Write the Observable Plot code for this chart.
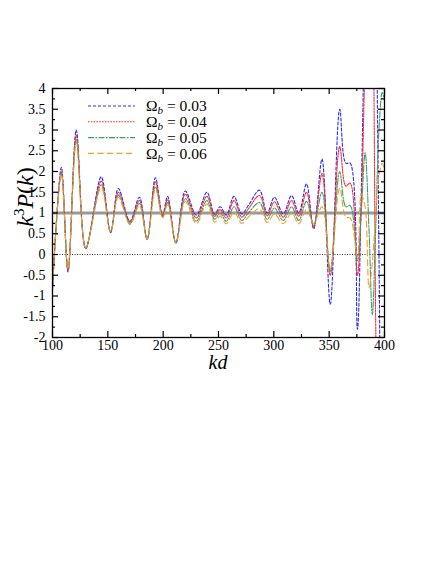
<!DOCTYPE html>
<html><head><meta charset="utf-8">
<script src="https://cdn.jsdelivr.net/npm/d3@7"></script>
<script src="https://cdn.jsdelivr.net/npm/@observablehq/plot@0.6"></script>
<style>
body{margin:0;background:#fff;}
#wrap{width:436px;height:564px;}
</style></head><body><div id="wrap"></div>
<script>
// knot positions (kd)
const kd = [100,108,114,121.5,130,144,152.5,159.5,170,178.5,185.5,193,199.5,204,211.5,220,230,239.5,246.5,251.5,257,264,271,277,287,294,300.5,308.5,316,322.5,329.5,336,343.5,351,359.5,365,369,375.5,379,382.5,386,389,392,395,398,400];
const omega003 = [-0.85,2.1,-0.42,3.0,0.14,1.87,0.53,1.59,0.8,1.38,0.37,1.85,0.95,1.4,0.28,1.53,0.95,1.5,0.97,1.15,0.95,1.4,0.98,1.18,1.55,1.0,1.38,0.98,1.42,1.0,1.7,0.62,2.3,-1.2,3.5,2.2,2.2,-1.8,1.5,6.5,11,11,7,0,-8,-10];
const omega004 = [-0.8,2.0,-0.38,2.87,0.15,1.77,0.54,1.5,0.78,1.3,0.37,1.75,0.93,1.32,0.28,1.45,0.88,1.4,0.92,1.08,0.88,1.3,0.9,1.1,1.42,0.93,1.27,0.9,1.3,0.92,1.5,0.65,1.95,-0.5,2.6,1.65,1.72,-0.5,1.2,4.8,8,6.5,-1.5,-7,-6,-3];
const omega005 = [-0.78,1.96,-0.36,2.77,0.16,1.68,0.55,1.43,0.75,1.23,0.38,1.63,0.9,1.25,0.28,1.35,0.8,1.3,0.85,1.0,0.8,1.15,0.82,1.0,1.25,0.85,1.12,0.82,1.15,0.82,1.28,0.7,1.5,-0.4,2.0,1.15,1.18,-0.15,1.0,2.45,0.6,-1.45,0.6,3.0,3.9,3.7];
const omega006 = [-0.75,1.93,-0.35,2.7,0.17,1.62,0.56,1.38,0.72,1.18,0.38,1.58,0.88,1.2,0.28,1.28,0.74,1.22,0.78,0.93,0.74,1.02,0.75,0.9,1.1,0.77,0.98,0.74,1.0,0.74,1.08,0.75,1.15,-0.35,1.6,0.9,0.88,-0.05,1.45,1.15,-0.8,-0.2,1.0,1.9,2.2,2.0];
const seriesLabels = ["0.03","0.04","0.05","0.06"];
const seriesValues = [omega003, omega004, omega005, omega006];
const xMajor = [100,150,200,250,300,350,400];
const xMinor = [125,175,225,275,325,375];
const yMajor = [-2,-1.5,-1,-0.5,0,0.5,1,1.5,2,2.5,3,3.5,4];
const yMinor = [-1.75,-1.25,-0.75,-0.25,0.25,0.75,1.25,1.75,2.25,2.75,3.25,3.75];

const colors = ["#2a2aff","#ff2a2a","#3a9e6e","#ff9a2a"];
const dashes = ["3,2","1.6,1.2","6,1.5,1.5,1.5","6,3.5"];

const W = 436, H = 564, ML = 52, MR = 52, MT = 88, MB = 227;
const FW = W - ML - MR, FH = H - MT - MB;

const lines = seriesValues.map((vals, i) => {
  const rows = kd.map((k, j) => ({kd: k, v: vals[j]}));
  return Plot.line(rows, {x: "kd", y: "v", stroke: colors[i], strokeWidth: 1.1, strokeDasharray: dashes[i], curve: "catmull-rom", clip: true});
});

const chart = Plot.plot({
  width: W, height: H, marginLeft: ML, marginRight: MR, marginTop: MT, marginBottom: MB,
  x: {domain: [100, 400], axis: null},
  y: {domain: [-2, 4], axis: null},
  style: {fontFamily: "'Liberation Serif', 'DejaVu Serif', serif", fontSize: "14px", background: "#fff", color: "#000"},
  marks: [
    Plot.ruleY([1], {stroke: "#999", strokeWidth: 2.8}),
    Plot.ruleY([0], {stroke: "#000", strokeWidth: 0.8, strokeDasharray: "1,1.5"}),
    ...lines,
    Plot.frame({stroke: "#000", strokeWidth: 1.3}),
    Plot.tickX(xMajor, {x: d => d, stroke: "#000", strokeWidth: 1.2, insetTop: FH - 6}),
    Plot.tickX(xMajor, {x: d => d, stroke: "#000", strokeWidth: 1.2, insetBottom: FH - 6}),
    Plot.tickX(xMinor, {x: d => d, stroke: "#000", strokeWidth: 1.2, insetTop: FH - 3}),
    Plot.tickX(xMinor, {x: d => d, stroke: "#000", strokeWidth: 1.2, insetBottom: FH - 3}),
    Plot.tickY(yMajor, {y: d => d, stroke: "#000", strokeWidth: 1.2, insetRight: FW - 6}),
    Plot.tickY(yMajor, {y: d => d, stroke: "#000", strokeWidth: 1.2, insetLeft: FW - 6}),
    Plot.tickY(yMinor, {y: d => d, stroke: "#000", strokeWidth: 1.2, insetRight: FW - 3}),
    Plot.tickY(yMinor, {y: d => d, stroke: "#000", strokeWidth: 1.2, insetLeft: FW - 3}),
    Plot.text(xMajor, {x: d => d, frameAnchor: "bottom", dy: 12, text: d => String(d), fontSize: 14, fill: "#000"}),
    Plot.text(yMajor, {y: d => d, frameAnchor: "left", dx: -7, textAnchor: "end", text: d => String(d), fontSize: 14, fill: "#000"})
  ]
});
document.getElementById("wrap").appendChild(chart);

const svg = d3.select(chart);
// axis titles
svg.append("text").attr("x", ML + FW / 2).attr("y", MT + FH + 32)
  .attr("text-anchor", "middle").attr("font-size", 20).attr("font-style", "italic")
  .attr("font-family", "'Liberation Serif', serif").attr("fill", "#000").text("kd");
const yt = svg.append("text").attr("transform", `translate(33,197) rotate(-90)`)
  .attr("text-anchor", "middle").attr("font-size", 24)
  .attr("font-family", "'Liberation Serif', serif").attr("fill", "#000");
yt.append("tspan").attr("font-style", "italic").text("k");
yt.append("tspan").attr("font-size", 15).attr("dy", -9).text("3");
yt.append("tspan").attr("font-style", "italic").attr("dy", 9).text("P");
yt.append("tspan").text("(");
yt.append("tspan").attr("font-style", "italic").text("k");
yt.append("tspan").text(")");

// legend
const lg = svg.append("g").attr("font-family", "'Liberation Serif', serif").attr("font-size", 15.5).attr("text-anchor", "start");
seriesLabels.forEach((lab, i) => {
  const y = 106 + i * 15.8;
  lg.append("line").attr("x1", 88).attr("x2", 135).attr("y1", y).attr("y2", y)
    .attr("stroke", colors[i]).attr("stroke-width", 1.1).attr("stroke-dasharray", dashes[i]);
  const t = lg.append("text").attr("x", 146).attr("y", y).attr("dy", "0.35em").attr("fill", "#000").attr("text-anchor", "start");
  t.append("tspan").text("Ω");
  t.append("tspan").attr("font-style", "italic").attr("font-size", 11).attr("dy", 3).text("b");
  t.append("tspan").attr("dy", -3).text(" = " + lab);
});
</script>
</body></html>
